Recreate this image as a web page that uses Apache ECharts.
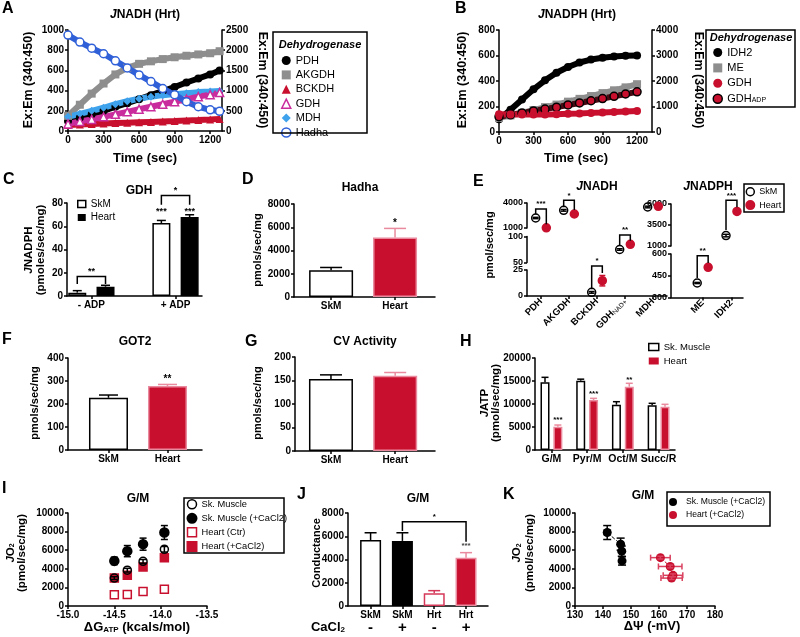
<!DOCTYPE html>
<html>
<head>
<meta charset="utf-8">
<script src="https://cdn.jsdelivr.net/npm/echarts@6.0.0/dist/echarts.min.js"></script>
<style>
html, body { margin: 0; padding: 0; background: #fff; }
#main { width: 800px; height: 637px; }
</style>
</head>
<body>
<div id="main"></div>
<script>
var FF = 'Liberation Sans';
var RED = '#c8102e', PINK = '#ea8a9e', GREY = '#8e8e8e', MAG = '#c92c9c', LBLUE = '#3ea2ec', BLUE = '#3060d8';

// ---------- data ----------
// A  JNADH (Hrt) traces, Ex:Em (340:450)
var timeA  = [0, 100, 200, 300, 400, 500, 600, 700, 800, 900, 1000, 1100, 1200, 1280];
var pdhA   = [100, 130, 165, 200, 240, 275, 315, 355, 395, 435, 480, 520, 560, 600];
var akgdhA = [150, 260, 370, 470, 560, 625, 665, 690, 712, 730, 745, 758, 770, 790];
var bckdhA = [60, 65, 70, 74, 78, 82, 86, 90, 94, 98, 103, 108, 114, 120];
var gdhA   = [70, 95, 115, 140, 165, 190, 215, 240, 265, 290, 315, 340, 360, 380];
var mdhA   = [140, 170, 200, 230, 265, 295, 320, 340, 355, 365, 375, 385, 390, 395];
var hadhaA = [950, 880, 820, 765, 695, 625, 555, 490, 420, 360, 290, 240, 210, 195];
// B  JNADPH (Hrt) traces
var timeB   = [0, 100, 200, 300, 400, 500, 600, 700, 800, 900, 1000, 1100, 1200];
var idh2B   = [100, 175, 255, 335, 405, 465, 510, 545, 568, 583, 592, 598, 600];
var meB     = [110, 130, 150, 172, 195, 215, 238, 260, 282, 305, 327, 350, 375];
var gdhB    = [140, 138, 137, 137, 138, 140, 143, 146, 150, 153, 157, 161, 165];
var gdhAdpB = [120, 135, 150, 165, 180, 195, 212, 228, 245, 262, 280, 298, 315];
// C  GDH
var catC = ['- ADP', '+ ADP'];
var skmC = [2.9, 62.7], skmErrC = [1.7, 2.3];
var heartC = [8.0, 67.9], heartErrC = [1.2, 2.0];
// D  Hadha
var catD = ['SkM', 'Heart'];
var valD = [2300, 5120], errD = [240, 780];
// E  JNADH / JNADPH
var catE1 = ['PDH', 'AKGDH', 'BCKDH', 'GDH_NAD+', 'MDH'];
var skmE1 = [2200, 3120, 3.5, 75, 3520], skmErrE1 = [80, 100, 0.8, 1.5, 100];
var heartE1 = [1020, 2680, 14.7, 85, 3600], heartErrE1 = [40, 80, 5, 1.5, 220];
var catE2 = ['ME', 'IDH2'];
var skmE2 = [400, 2240], skmErrE2 = [4, 150];
var heartE2 = [508, 5120], heartErrE2 = [6, 150];
// F  GOT2
var catF = ['SkM', 'Heart'];
var valF = [227, 278], errF = [12, 7];
// G  CV Activity
var catG = ['SkM', 'Heart'];
var valG = [153, 160], errG = [9, 7];
// H  JATP
var catH = ['G/M', 'Pyr/M', 'Oct/M', 'Succ/R'];
var skmH = [14720, 15070, 9850, 9710], skmErrH = [1080, 330, 650, 440];
var heartH = [5070, 10870, 13770, 9420], heartErrH = [360, 360, 730, 510];
// I  G/M JO2 vs dG_ATP
var dgI = [-14.5, -14.36, -14.19, -13.96];
var skmI = [3000, 3850, 4800, 6100], skmErrI = [150, 200, 200, 300];
var skmCaI = [4850, 5900, 6650, 7900], skmCaErrI = [400, 600, 650, 750];
var heartCtrI = [1200, 1250, 1550, 1800];
var heartCaI = [3000, 3300, 4200, 5200];
// J  Conductance
var catJ = ['SkM', 'SkM', 'Hrt', 'Hrt'];
var caJ = ['-', '+', '-', '+'];
var valJ = [5680, 5600, 1090, 4160], errJ = [620, 700, 230, 430];
// K  JO2 vs dPsi
var psiSkK = [141.5, 146.3, 146.7, 146.8], psiSkErrK = [1, 0.3, 0.3, 0.3];
var jo2SkK = [7900, 6650, 5900, 4850], jo2SkErrK = [750, 650, 550, 450];
var psiHtK = [160.5, 164, 165, 164.5], psiHtErrK = [3.5, 4.2, 3.5, 3.8];
var jo2HtK = [5200, 4250, 3300, 3000], jo2HtErrK = [150, 150, 150, 150];

// ---------- helpers ----------
var chart = echarts.init(document.getElementById('main'));
var grid = [], xAxis = [], yAxis = [], series = [], legend = [], graphic = [];

function fnt(size, weight, style) {
  return { fontSize: size, fontWeight: weight || 'bold', fontFamily: FF, fontStyle: style || 'normal' };
}
function richSet(size) {
  return {
    i: fnt(size, 'bold', 'italic'),
    s: Object.assign(fnt(Math.round(size * 0.65)), { verticalAlign: 'bottom' })
  };
}
function T(x, y, text, size, o) {
  o = o || {};
  var st = Object.assign({ text: text, fill: '#000',
    align: o.align || 'center', verticalAlign: o.va || 'middle',
    textAlign: o.align || 'center', textVerticalAlign: o.va || 'middle' },
    fnt(size, o.weight, o.style));
  if (o.rich) st.rich = richSet(size);
  if (o.lh) st.lineHeight = o.lh;
  graphic.push({ type: 'text', x: x, y: y, rotation: o.rot || 0, z: 100, silent: true, style: st });
}
function box(x, y, w, h) {
  graphic.push({ type: 'rect', shape: { x: x, y: y, width: w, height: h }, z: 90, silent: true,
    style: { fill: 'none', stroke: '#000', lineWidth: 1.5 } });
}
function axis(o) {
  var a = {
    type: 'value', gridIndex: o.g, min: o.min, max: o.max, show: o.show !== false,
    axisLine: { show: true, onZero: false, lineStyle: { color: '#000', width: 1.5 } },
    axisTick: { show: true, length: 3, lineStyle: { color: '#000', width: 1.5 } },
    axisLabel: Object.assign({ color: '#000', margin: o.margin || 4, rotate: o.rotate || 0 }, fnt(o.fs || 10)),
    splitLine: { show: false }
  };
  if (o.interval) a.interval = o.interval;
  if (o.pos) a.position = o.pos;
  a.axisLabel.formatter = o.fmt || function (v) { return String(v); };
  if (o.rich) a.axisLabel.rich = o.rich;
  if (o.ticks) { a.axisTick.customValues = o.ticks; a.axisLabel.customValues = o.ticks; }
  return a;
}
function addX(o) { xAxis.push(axis(o)); return xAxis.length - 1; }
function addY(o) { yAxis.push(axis(o)); return yAxis.length - 1; }
function addGrid(l, t, w, h) { grid.push({ left: l, top: t, width: w, height: h }); return grid.length - 1; }
function seg(x1, y1, x2, y2, c) {
  return { type: 'line', shape: { x1: x1, y1: y1, x2: x2, y2: y2 }, style: { stroke: c, lineWidth: 1.5 } };
}
function pick(c, i) { return Array.isArray(c) ? c[i] : c; }

function trace(name, xi, yi, ts, vs, color, sym, hollow, lineColor, border) {
  return { type: 'line', name: name, xAxisIndex: xi, yAxisIndex: yi, silent: true,
    data: ts.map(function (t, i) { return [t, vs[i]]; }),
    symbol: sym, symbolSize: 8, showSymbol: true, showAllSymbol: true,
    lineStyle: { color: lineColor || color, width: 6 },
    itemStyle: hollow ? { color: '#fff', borderColor: color, borderWidth: 1.5 }
      : { color: color, borderColor: border || color, borderWidth: border ? 1.5 : 0 } };
}
function bars(xi, yi, pts, width) {
  return { type: 'bar', xAxisIndex: xi, yAxisIndex: yi, barWidth: width, barGap: '-100%', silent: true, z: 3,
    data: pts.map(function (p) {
      return { value: [p.x, p.v], itemStyle: { color: p.fill, borderColor: p.stroke, borderWidth: 1.5 } };
    }) };
}
// pts: [x, y, err]; upper error only unless both
function errBars(xi, yi, pts, cap, color, both, z) {
  return { type: 'custom', xAxisIndex: xi, yAxisIndex: yi, silent: true, clip: false, z: z || 4, data: pts,
    renderItem: function (p, api) {
      var x = api.value(0), y = api.value(1), e = api.value(2), c = pick(color, p.dataIndex);
      var top = api.coord([x, y + e]), bot = api.coord([x, both ? y - e : y]);
      var ch = [seg(top[0], bot[1], top[0], top[1], c), seg(top[0] - cap / 2, top[1], top[0] + cap / 2, top[1], c)];
      if (both) ch.push(seg(top[0] - cap / 2, bot[1], top[0] + cap / 2, bot[1], c));
      return { type: 'group', children: ch };
    } };
}
// pts: [x, y, xerr]
function xErrBars(xi, yi, pts, cap, color) {
  return { type: 'custom', xAxisIndex: xi, yAxisIndex: yi, silent: true, clip: false, z: 4, data: pts,
    renderItem: function (p, api) {
      var x = api.value(0), y = api.value(1), e = api.value(2);
      var l = api.coord([x - e, y]), r = api.coord([x + e, y]);
      return { type: 'group', children: [seg(l[0], l[1], r[0], r[1], color),
        seg(l[0], l[1] - cap / 2, l[0], l[1] + cap / 2, color), seg(r[0], r[1] - cap / 2, r[0], r[1] + cap / 2, color)] };
    } };
}
// items: [x1, yLeftFoot, x2, yRightFoot, yTop, label]
function brackets(xi, yi, items, color, size) {
  return { type: 'custom', xAxisIndex: xi, yAxisIndex: yi, silent: true, clip: false, z: 5,
    data: items.map(function (b) { return [b[0], b[4]]; }),
    renderItem: function (p, api) {
      var b = items[p.dataIndex];
      var a = api.coord([b[0], b[1]]), t1 = api.coord([b[0], b[4]]), t2 = api.coord([b[2], b[4]]), c = api.coord([b[2], b[3]]);
      return { type: 'group', children: [
        { type: 'polyline', shape: { points: [a, t1, t2, c] }, style: { stroke: color, lineWidth: 1.5, fill: 'none' } },
        { type: 'text', x: (t1[0] + t2[0]) / 2, y: t1[1] - 1,
          style: Object.assign({ text: b[5], fill: color, align: 'center', verticalAlign: 'bottom',
            textAlign: 'center', textVerticalAlign: 'bottom' }, fnt(size || 9)) }
      ] };
    } };
}
// items: [x, y, label]
function stars(xi, yi, items, color, size) {
  return { type: 'custom', xAxisIndex: xi, yAxisIndex: yi, silent: true, clip: false, z: 5,
    data: items.map(function (s) { return [s[0], s[1]]; }),
    renderItem: function (p, api) {
      var s = items[p.dataIndex], c = api.coord([s[0], s[1]]);
      return { type: 'text', x: c[0], y: c[1],
        style: Object.assign({ text: s[2], fill: color, align: 'center', verticalAlign: 'middle',
          textAlign: 'center', textVerticalAlign: 'middle' }, fnt(size || 9)) };
    } };
}
function scat(name, xi, yi, pts, sym, size, fill, stroke, z) {
  return { type: 'scatter', name: name, xAxisIndex: xi, yAxisIndex: yi, silent: true, z: z || 3,
    data: pts, symbol: sym, symbolSize: size,
    itemStyle: { color: fill, borderColor: stroke, borderWidth: 1.5, opacity: 1 } };
}
function legendBox(o) {
  legend.push({ left: o.left, top: o.top, orient: 'vertical', padding: 0, selectedMode: false,
    itemWidth: o.iw, itemHeight: o.ih, itemGap: o.gap,
    textStyle: Object.assign({ color: '#000', lineHeight: o.lh || 10, rich: o.rich }, fnt(o.fs, 'normal')),
    lineStyle: { type: 'solid', width: 1.5 },
    formatter: function (n) { return LBL[n] || n; },
    data: o.data });
}
var LBL = {
  A_PDH: 'PDH', A_AKGDH: 'AKGDH', A_BCKDH: 'BCKDH', A_GDH: 'GDH', A_MDH: 'MDH', A_Hadha: 'Hadha',
  B_IDH2: 'IDH2', B_ME: 'ME', B_GDH: 'GDH', B_GDHADP: 'GDH{sub|ADP}',
  C_SkM: 'SkM', C_Heart: 'Heart', E_SkM: 'SkM', E_Heart: 'Heart',
  H_SkM: 'Sk. Muscle', H_Heart: 'Heart',
  I_SkM: 'Sk. Muscle', I_SkMCa: 'Sk. Muscle (+CaCl2)', I_HtCtr: 'Heart (Ctr)', I_HtCa: 'Heart (+CaCl2)',
  K_Sk: 'Sk. Muscle (+CaCl2)', K_Ht: 'Heart (+CaCl2)'
};
function idxFmt(cats) { return function (v) { return cats[Math.round(v)]; }; }

// ---------- A ----------
var gA = addGrid(68, 30, 154, 101);
var xA = addX({ g: gA, min: 0, max: 1300, ticks: [0, 300, 600, 900, 1200] });
var yA = addY({ g: gA, min: 0, max: 1000, interval: 200, pos: 'left' });
addY({ g: gA, min: 0, max: 2500, interval: 500, pos: 'right' });
series.push(trace('A_PDH', xA, yA, timeA, pdhA, '#000', 'circle'));
series.push(trace('A_AKGDH', xA, yA, timeA, akgdhA, GREY, 'rect'));
series.push(trace('A_BCKDH', xA, yA, timeA, bckdhA, RED, 'triangle'));
series.push(trace('A_MDH', xA, yA, timeA, mdhA, LBLUE, 'diamond'));
series.push(trace('A_GDH', xA, yA, timeA, gdhA, MAG, 'triangle', true));
series.push(trace('A_Hadha', xA, yA, timeA, hadhaA, BLUE, 'circle', true));
T(2, 1, 'A', 16, { align: 'left', va: 'top' });
T(145, 15, '{i|J}NADH (Hrt)', 12, { rich: true });
T(29, 80, 'Ex:Em (340:450)', 12.5, { rot: Math.PI / 2 });
T(262, 80, 'Ex:Em (340:450)', 12.5, { rot: -Math.PI / 2 });
T(145, 158, 'Time (sec)', 13);
box(273, 32, 94, 101);
T(320, 45, 'Dehydrogenase', 11, { style: 'italic' });
legendBox({ left: 281, top: 55, iw: 9, ih: 9, gap: 3.4, fs: 11, data: [
  { name: 'A_PDH', icon: 'circle', itemStyle: { color: '#000' } },
  { name: 'A_AKGDH', icon: 'rect', itemStyle: { color: GREY } },
  { name: 'A_BCKDH', icon: 'triangle', itemStyle: { color: RED } },
  { name: 'A_GDH', icon: 'triangle', itemStyle: { color: '#fff', borderColor: MAG, borderWidth: 1.5 } },
  { name: 'A_MDH', icon: 'diamond', itemStyle: { color: LBLUE } },
  { name: 'A_Hadha', icon: 'circle', itemStyle: { color: '#fff', borderColor: BLUE, borderWidth: 1.5 } }
] });

// ---------- B ----------
var gB = addGrid(499, 30, 153, 102);
var xB = addX({ g: gB, min: 0, max: 1330, ticks: [0, 300, 600, 900, 1200] });
var yB = addY({ g: gB, min: 0, max: 800, interval: 200, pos: 'left' });
addY({ g: gB, min: 0, max: 4000, interval: 1000, pos: 'right' });
series.push(trace('B_IDH2', xB, yB, timeB, idh2B, '#000', 'circle'));
series.push(trace('B_ME', xB, yB, timeB, meB, GREY, 'rect'));
series.push(trace('B_GDHADP', xB, yB, timeB, gdhAdpB, RED, 'circle', false, '#4a0a14', '#000'));
series.push(trace('B_GDH', xB, yB, timeB, gdhB, RED, 'circle'));
T(455, 1, 'B', 16, { align: 'left', va: 'top' });
T(577, 15, '{i|J}NADPH (Hrt)', 12, { rich: true });
T(463, 80, 'Ex:Em (340:450)', 12.5, { rot: Math.PI / 2 });
T(698, 80, 'Ex:Em (340:450)', 12.5, { rot: -Math.PI / 2 });
T(576, 158, 'Time (sec)', 13);
box(706, 30, 89, 77);
T(751, 38, 'Dehydrogenase', 11, { style: 'italic' });
legendBox({ left: 712.5, top: 47, iw: 9, ih: 9, gap: 4.4, fs: 11,
  rich: { sub: Object.assign(fnt(7, 'normal'), { verticalAlign: 'bottom' }) }, data: [
  { name: 'B_IDH2', icon: 'circle', itemStyle: { color: '#000' } },
  { name: 'B_ME', icon: 'rect', itemStyle: { color: GREY } },
  { name: 'B_GDH', icon: 'circle', itemStyle: { color: RED } },
  { name: 'B_GDHADP', icon: 'circle', itemStyle: { color: RED, borderColor: '#000', borderWidth: 1.5 } }
] });

// ---------- C ----------
var gC = addGrid(67, 203, 135, 93);
var xC = addX({ g: gC, min: -0.29, max: 1.315, ticks: [0, 1], fmt: idxFmt(catC) });
var yC = addY({ g: gC, min: 0, max: 80, interval: 20 });
var sC = bars(xC, yC, skmC.map(function (v, i) { return { x: i - 0.168, v: v, fill: '#fff', stroke: '#000' }; }), 18);
sC.name = 'C_SkM'; series.push(sC);
var hC = bars(xC, yC, heartC.map(function (v, i) { return { x: i + 0.168, v: v, fill: '#000', stroke: '#000' }; }), 18);
hC.name = 'C_Heart'; series.push(hC);
series.push(errBars(xC, yC, skmC.map(function (v, i) { return [i - 0.168, v, skmErrC[i]]; }), 9, '#000'));
series.push(errBars(xC, yC, heartC.map(function (v, i) { return [i + 0.168, v, heartErrC[i]]; }), 9, '#000'));
series.push(brackets(xC, yC, [[-0.168, 10.4, 0.168, 10.4, 16.7, '**'], [0.832, 78.5, 1.168, 78.5, 86.4, '*']], '#000', 9));
series.push(stars(xC, yC, [[0.832, 72.5, '***'], [1.168, 73, '***']], '#000', 9));
T(3, 172, 'C', 16, { align: 'left', va: 'top' });
T(139, 191, 'GDH', 12);
T(35, 250, '{i|J}NADPH\n(pmoles/sec/mg)', 11.5, { rot: Math.PI / 2, lh: 12, rich: true });
legendBox({ left: 77, top: 199, iw: 8, ih: 7, gap: 3.5, fs: 10, data: [
  { name: 'C_SkM', icon: 'rect', itemStyle: { color: '#fff', borderColor: '#000', borderWidth: 1.5 } },
  { name: 'C_Heart', icon: 'rect', itemStyle: { color: '#000' } }
] });

// ---------- D ----------
var gD = addGrid(294, 204, 141, 93);
var xD = addX({ g: gD, min: -0.58, max: 1.625, ticks: [0, 1], fmt: idxFmt(catD) });
var yD = addY({ g: gD, min: 0, max: 8000, interval: 2000 });
series.push(bars(xD, yD, valD.map(function (v, i) {
  return { x: i, v: v, fill: i ? RED : '#fff', stroke: i ? PINK : '#000' }; }), 44));
series.push(errBars(xD, yD, valD.map(function (v, i) { return [i, v, errD[i]]; }), 22, ['#000', PINK]));
series.push(stars(xD, yD, [[1, 6360, '*']], '#000', 10));
T(242, 172, 'D', 16, { align: 'left', va: 'top' });
T(360, 188, 'Hadha', 12);
T(258, 250, 'pmols/sec/mg', 11, { rot: Math.PI / 2 });

// ---------- E (broken axes) ----------
function segIndex(segs, v) {
  for (var i = 0; i < segs.length; i++) if (v >= segs[i].ticks[0]) return i;
  return segs.length - 1;
}
var subRich = { sub: Object.assign(fnt(6.5, 'normal'), { verticalAlign: 'bottom' }) };
function brokenPanel(segs, left, width, xmin, xmax, cats, skm, skmErr, heart, heartErr, brk) {
  segs.forEach(function (s, i) {
    s.g = addGrid(left, s.top, width, s.h);
    s.x = addX({ g: s.g, min: xmin, max: xmax, ticks: cats.map(function (c, k) { return k; }),
      show: i === segs.length - 1, rotate: 45, fs: 9.5, rich: subRich,
      fmt: function (v) { var c = cats[Math.round(v)] || ''; return c.replace(/_(.*)$/, '{sub|$1}'); } });
    s.y = addY({ g: s.g, min: s.ticks[0], max: s.ticks[s.ticks.length - 1], ticks: s.ticks, fs: 9 });
    s.sk = []; s.skE = []; s.ht = []; s.htE = [];
  });
  cats.forEach(function (c, i) {
    var a = segs[segIndex(segs, skm[i])], b = segs[segIndex(segs, heart[i])];
    a.sk.push([i - 0.19, skm[i]]); a.skE.push([i - 0.19, skm[i], skmErr[i]]);
    b.ht.push([i + 0.19, heart[i]]); b.htE.push([i + 0.19, heart[i], heartErr[i]]);
  });
  segs.forEach(function (s, i) {
    series.push(scat('E_Heart', s.x, s.y, s.ht, 'circle', 8, RED, RED, 3));
    series.push(errBars(s.x, s.y, s.htE, 6, RED, true, 4));
    series.push(scat('E_SkM', s.x, s.y, s.sk, 'circle', 8, 'rgba(255,255,255,0)', '#000', 3));
    series.push(errBars(s.x, s.y, s.skE, 6, '#000', true, 4));
    var mine = brk.filter(function (b) { return b[6] === i; });
    if (mine.length) series.push(brackets(s.x, s.y, mine, '#000', 8));
  });
}
var segE1 = [{ top: 203, h: 25, ticks: [1000, 4000] }, { top: 236.5, h: 26, ticks: [50, 100] }, { top: 270, h: 26, ticks: [0, 25] }];
brokenPanel(segE1, 527, 140, -0.5, 4.5, catE1, skmE1, skmErrE1, heartE1, heartErrE1, [
  [-0.19, 2650, 0.19, 1450, 3280, '***', 0],
  [0.81, 3500, 1.19, 3150, 4320, '*', 0],
  [1.81, 6.5, 2.19, 22, 28.8, '*', 2],
  [2.81, 83, 3.19, 92, 103, '**', 1]
]);
var segE2 = [{ top: 204, h: 42, ticks: [1000, 3500, 6000] }, { top: 254, h: 43.5, ticks: [300, 450, 600] }];
brokenPanel(segE2, 671, 72, -1.1, 1.4, catE2, skmE2, skmErrE2, heartE2, heartErrE2, [
  [-0.19, 434, 0.19, 538, 588, '**', 1],
  [0.81, 2900, 1.19, 5600, 6440, '***', 0]
]);
T(473, 174, 'E', 16, { align: 'left', va: 'top' });
T(597, 187, '{i|J}NADH', 12, { rich: true });
T(708, 187, '{i|J}NADPH', 12, { rich: true });
T(490, 245, 'pmol/sec/mg', 11, { rot: Math.PI / 2 });
box(744, 184, 40, 28);
legendBox({ left: 745.3, top: 187, iw: 8, ih: 8, gap: 3.6, lh: 9, fs: 9, data: [
  { name: 'E_SkM', icon: 'circle', itemStyle: { color: '#fff', borderColor: '#000', borderWidth: 1.5 } },
  { name: 'E_Heart', icon: 'circle', itemStyle: { color: RED } }
] });

// ---------- F ----------
var gF = addGrid(68, 358, 134, 92);
var xF = addX({ g: gF, min: -0.686, max: 1.585, ticks: [0, 1], fmt: idxFmt(catF) });
var yF = addY({ g: gF, min: 0, max: 400, interval: 100 });
series.push(bars(xF, yF, valF.map(function (v, i) {
  return { x: i, v: v, fill: i ? RED : '#fff', stroke: i ? PINK : '#000' }; }), 39));
series.push(errBars(xF, yF, valF.map(function (v, i) { return [i, v, errF[i]]; }), 19, ['#000', PINK]));
series.push(stars(xF, yF, [[1, 309, '**']], '#000', 10));
T(2, 332, 'F', 16, { align: 'left', va: 'top' });
T(135, 342, 'GOT2', 12);
T(35, 403, 'pmols/sec/mg', 11, { rot: Math.PI / 2 });

// ---------- G ----------
var gG = addGrid(295, 357, 140, 94);
var xG = addX({ g: gG, min: -0.56, max: 1.62, ticks: [0, 1], fmt: idxFmt(catG) });
var yG = addY({ g: gG, min: 0, max: 200, interval: 50 });
series.push(bars(xG, yG, valG.map(function (v, i) {
  return { x: i, v: v, fill: i ? RED : '#fff', stroke: i ? PINK : '#000' }; }), 44));
series.push(errBars(xG, yG, valG.map(function (v, i) { return [i, v, errG[i]]; }), 22, ['#000', PINK]));
T(245, 334, 'G', 16, { align: 'left', va: 'top' });
T(365, 342, 'CV Activity', 12);
T(258, 403, 'pmols/sec/mg', 11, { rot: Math.PI / 2 });

// ---------- H ----------
var gH = addGrid(535, 358, 140, 92);
var xH = addX({ g: gH, min: -0.46, max: 3.46, ticks: [0, 1, 2, 3], fmt: idxFmt(catH), fs: 10.5 });
var yH = addY({ g: gH, min: 0, max: 20000, interval: 5000 });
var sH = bars(xH, yH, skmH.map(function (v, i) { return { x: i - 0.18, v: v, fill: '#fff', stroke: '#000' }; }), 9);
sH.name = 'H_SkM'; series.push(sH);
var hH = bars(xH, yH, heartH.map(function (v, i) { return { x: i + 0.18, v: v, fill: RED, stroke: PINK }; }), 9);
hH.name = 'H_Heart'; series.push(hH);
series.push(errBars(xH, yH, skmH.map(function (v, i) { return [i - 0.18, v, skmErrH[i]]; }), 7, '#000'));
series.push(errBars(xH, yH, heartH.map(function (v, i) { return [i + 0.18, v, heartErrH[i]]; }), 7, PINK));
series.push(stars(xH, yH, [[0.18, 6600, '***'], [1.18, 12300, '***'], [2.18, 15200, '**']], '#000', 8));
T(460, 334, 'H', 16, { align: 'left', va: 'top' });
T(490, 403, '{i|J}ATP\n(pmol/sec/mg)', 11.5, { rot: Math.PI / 2, lh: 11, rich: true });
legendBox({ left: 648, top: 342, iw: 10, ih: 7, gap: 4, fs: 9.5, data: [
  { name: 'H_SkM', icon: 'rect', itemStyle: { color: '#fff', borderColor: '#000', borderWidth: 1.5 } },
  { name: 'H_Heart', icon: 'rect', itemStyle: { color: RED } }
] });

// ---------- I ----------
var gI = addGrid(68, 513, 139, 93);
var xI = addX({ g: gI, min: -15, max: -13.5, interval: 0.5, fmt: function (v) { return v.toFixed(1); } });
var yI = addY({ g: gI, min: 0, max: 10000, interval: 2000 });
function pairs(xs, ys) { return xs.map(function (x, i) { return [x, ys[i]]; }); }
function triples(xs, ys, es) { return xs.map(function (x, i) { return [x, ys[i], es[i]]; }); }
series.push(scat('I_HtCtr', xI, yI, pairs(dgI, heartCtrI), 'rect', 8, '#fff', RED, 3));
series.push(scat('I_HtCa', xI, yI, pairs(dgI, heartCaI), 'rect', 8, RED, RED, 3));
series.push(scat('I_SkM', xI, yI, pairs(dgI, skmI), 'circle', 8, 'rgba(255,255,255,0)', '#000', 4));
series.push(scat('I_SkMCa', xI, yI, pairs(dgI, skmCaI), 'circle', 9, '#000', '#000', 4));
series.push(errBars(xI, yI, triples(dgI, skmI, skmErrI), 7, '#000', true, 5));
series.push(errBars(xI, yI, triples(dgI, skmCaI, skmCaErrI), 7, '#000', true, 5));
T(2, 481, 'I', 16, { align: 'left', va: 'top' });
T(138, 499, 'G/M', 12);
T(16, 553, '{i|J}O{s|2}\n(pmol/sec/mg)', 11.5, { rot: Math.PI / 2, lh: 11, rich: true });
T(137, 627, '\u0394G{s|ATP} (kcals/mol)', 13, { rich: true });
box(184, 498, 100, 55);
legendBox({ left: 186.5, top: 499, iw: 9, ih: 9, gap: 3.3, fs: 9.3, data: [
  { name: 'I_SkM', icon: 'circle', itemStyle: { color: '#fff', borderColor: '#000', borderWidth: 1.5 } },
  { name: 'I_SkMCa', icon: 'circle', itemStyle: { color: '#000' } },
  { name: 'I_HtCtr', icon: 'rect', itemStyle: { color: '#fff', borderColor: RED, borderWidth: 1.5 } },
  { name: 'I_HtCa', icon: 'rect', itemStyle: { color: RED } }
] });

// ---------- J ----------
var gJ = addGrid(348, 513, 140, 93);
var xJ = addX({ g: gJ, min: -0.71, max: 3.69, ticks: [0, 1, 2, 3], margin: 3,
  fmt: function (v) { var i = Math.round(v); return '{a|' + catJ[i] + '}\n{b|' + caJ[i] + '}'; },
  rich: { a: Object.assign(fnt(10), { lineHeight: 12 }), b: Object.assign(fnt(15), { lineHeight: 14 }) } });
var yJ = addY({ g: gJ, min: 0, max: 8000, interval: 2000 });
var fillJ = ['#fff', '#000', '#fff', RED], strokeJ = ['#000', '#000', '#d6385a', PINK];
series.push(bars(xJ, yJ, valJ.map(function (v, i) { return { x: i, v: v, fill: fillJ[i], stroke: strokeJ[i] }; }), 21));
series.push(errBars(xJ, yJ, valJ.map(function (v, i) { return [i, v, errJ[i]]; }), 12, ['#000', '#000', '#d6385a', PINK]));
series.push(brackets(xJ, yJ, [[1, 6450, 3, 5530, 7250, '*']], '#000', 8));
series.push(stars(xJ, yJ, [[3, 5160, '***']], '#444', 8));
T(297, 487, 'J', 16, { align: 'left', va: 'top' });
T(418, 499, 'G/M', 12);
T(317, 553, 'Conductance', 11, { rot: Math.PI / 2 });
T(328, 627, 'CaCl{s|2}', 13, { rich: true });

// ---------- K ----------
var gK = addGrid(575, 513, 140, 93);
var xK = addX({ g: gK, min: 130, max: 180, interval: 10 });
var yK = addY({ g: gK, min: 0, max: 10000, interval: 2000 });
series.push({ type: 'line', name: 'K_Sk', xAxisIndex: xK, yAxisIndex: yK, silent: true, z: 4,
  data: pairs(psiSkK, jo2SkK), symbol: 'circle', symbolSize: 9,
  lineStyle: { color: '#000', width: 1, type: 'dashed' }, itemStyle: { color: '#000' } });
series.push({ type: 'line', name: 'K_Ht', xAxisIndex: xK, yAxisIndex: yK, silent: true, z: 4,
  data: pairs(psiHtK, jo2HtK), symbol: 'circle', symbolSize: 9,
  lineStyle: { color: RED, width: 1, type: 'dashed' }, itemStyle: { color: RED } });
series.push(errBars(xK, yK, triples(psiSkK, jo2SkK, jo2SkErrK), 8, '#000', true, 5));
series.push(xErrBars(xK, yK, triples(psiSkK, jo2SkK, psiSkErrK), 6, '#000'));
series.push(errBars(xK, yK, triples(psiHtK, jo2HtK, jo2HtErrK), 6, '#d9415f', true, 5));
series.push(xErrBars(xK, yK, triples(psiHtK, jo2HtK, psiHtErrK), 6, '#d9415f'));
T(503, 487, 'K', 16, { align: 'left', va: 'top' });
T(643, 496, 'G/M', 12);
T(523, 553, '{i|J}O{s|2}\n(pmol/sec/mg)', 11.5, { rot: Math.PI / 2, lh: 13, rich: true });
T(652, 626, '\u0394\u03a8 (-mV)', 13);
box(667, 492, 103, 34);
legendBox({ left: 669, top: 497, iw: 16, ih: 8, gap: 3, fs: 8.6, data: [
  { name: 'K_Sk', icon: 'circle', itemStyle: { color: '#000' } },
  { name: 'K_Ht', icon: 'circle', itemStyle: { color: RED } }
] });

chart.setOption({
  animation: false,
  backgroundColor: '#fff',
  textStyle: { fontFamily: FF },
  grid: grid, xAxis: xAxis, yAxis: yAxis,
  legend: legend, series: series,
  graphic: { elements: graphic }
});
</script>
</body>
</html>
